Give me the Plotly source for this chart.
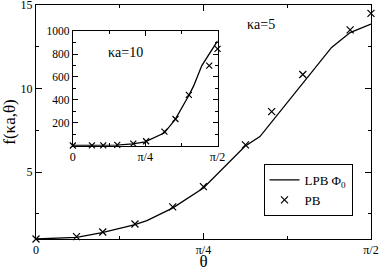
import numpy as np
import plotly.graph_objects as go

PI = np.pi
# main panel (ka=5)
pb5_theta = [0.0, 0.19, 0.313, 0.464, 0.641, 0.785, 0.982, 1.105, 1.251, 1.473, 1.5707]
pb5_f = [1.0, 1.14, 1.42, 1.90, 2.92, 4.13, 6.63, 8.62, 10.84, 13.51, 14.5]
lpb5_theta = [0.0, 0.19, 0.31, 0.46, 0.52, 0.64, 0.785, 0.98, 1.05, 1.386, 1.473, 1.5707]
lpb5_f = [1.0, 1.1, 1.38, 1.84, 2.1, 2.85, 4.05, 6.55, 7.13, 12.46, 13.35, 13.86]

# inset (ka=10)
pb10_theta = [0.0, 0.207, 0.33, 0.482, 0.656, 0.795, 0.994, 1.114, 1.259, 1.48, 1.5707]
pb10_f = [1, 2, 2, 6, 17, 38, 122, 233, 443, 699, 845]
lpb10_theta = [0.0, 0.2, 0.33, 0.48, 0.65, 0.785, 0.99, 1.11, 1.26, 1.31, 1.40, 1.48, 1.5707]
lpb10_f = [1, 1, 2, 5, 15, 33, 110, 228, 440, 520, 700, 800, 915]

x_tickvals = [0, PI / 4, PI / 2]
x_ticktext = ["0", "π/4", "π/2"]
x_minor = [PI / 8, 3 * PI / 8]

SERIF = "Liberation Serif, Times New Roman, DejaVu Serif, serif"

fig = go.Figure()
fig.add_trace(go.Scatter(x=lpb5_theta, y=lpb5_f, mode="lines", name="LPB Φ<sub>0</sub>",
                         line=dict(color="black", width=1.3), cliponaxis=False))
fig.add_trace(go.Scatter(x=pb5_theta, y=pb5_f, mode="markers", name="PB",
                         marker=dict(symbol="x-thin", size=7, line=dict(color="black", width=1.2)),
                         cliponaxis=False))
fig.add_trace(go.Scatter(x=lpb10_theta, y=lpb10_f, mode="lines", showlegend=False,
                         line=dict(color="black", width=1.3), xaxis="x2", yaxis="y2", cliponaxis=False))
fig.add_trace(go.Scatter(x=pb10_theta, y=pb10_f, mode="markers", showlegend=False,
                         marker=dict(symbol="x-thin", size=6, line=dict(color="black", width=1.2)),
                         xaxis="x2", yaxis="y2", cliponaxis=False))

axcommon = dict(showline=True, linecolor="black", linewidth=1, mirror="allticks",
                ticks="inside", tickcolor="black", tickwidth=1, showgrid=False, zeroline=False,
                automargin=False, ticklabeloverflow="allow")

fig.update_layout(
    width=382, height=271,
    margin=dict(l=36, r=11, t=5, b=32, autoexpand=False),
    paper_bgcolor="white", plot_bgcolor="white",
    font=dict(family=SERIF, color="black", size=12),
    xaxis=dict(range=[0, PI / 2], domain=[0, 1], tickvals=x_tickvals, ticktext=x_ticktext,
               ticklen=6, minor=dict(tickvals=x_minor, ticklen=3, ticks="inside", tickcolor="black"),
               title=dict(text="θ", font=dict(size=17, family=SERIF), standoff=0),
               tickfont=dict(size=12, family=SERIF), **axcommon),
    yaxis=dict(range=[1, 15], domain=[0, 1], tickvals=[5, 10, 15], ticklen=6,
               minor=dict(tickvals=[2.5, 7.5, 12.5], ticklen=3, ticks="inside", tickcolor="black"),
               title=dict(text="f(κa,θ)", font=dict(size=17, family=SERIF), standoff=6),
               tickfont=dict(size=12, family=SERIF), **axcommon),
    xaxis2=dict(range=[0, PI / 2], domain=[0.110, 0.542], anchor="y2", tickvals=x_tickvals,
                ticktext=x_ticktext, ticklen=5,
                minor=dict(tickvals=x_minor, ticklen=3, ticks="inside", tickcolor="black"),
                tickfont=dict(size=12, family=SERIF), **axcommon),
    yaxis2=dict(range=[0, 1000], domain=[0.399, 0.888], anchor="x2",
                tickvals=[200, 400, 600, 800, 1000], ticklen=5,
                minor=dict(dtick=100, ticklen=3, ticks="inside", tickcolor="black"),
                tickfont=dict(size=11.5, family=SERIF), **axcommon),
    legend=dict(x=(308 - 36) / 335, y=(239 - 190) / 234, xanchor="center", yanchor="middle",
                bgcolor="white", bordercolor="black", borderwidth=1,
                font=dict(size=13, family=SERIF), itemwidth=30, tracegroupgap=0),
    showlegend=True,
)
W, H = 382 - 36 - 11, 271 - 5 - 32
fig.add_annotation(text="κa=5", x=(277 - 36) / W, y=(239 - 15) / H, xref="paper", yref="paper",
                   showarrow=False, font=dict(size=14, family=SERIF))
fig.add_annotation(text="κa=10", x=(106 - 36) / W, y=(239 - 43) / H, xref="paper", yref="paper",
                   showarrow=False, font=dict(size=14, family=SERIF))

fig.write_html("out.html", config={"displayModeBar": False},
               post_script="document.body.style.margin='0';")
